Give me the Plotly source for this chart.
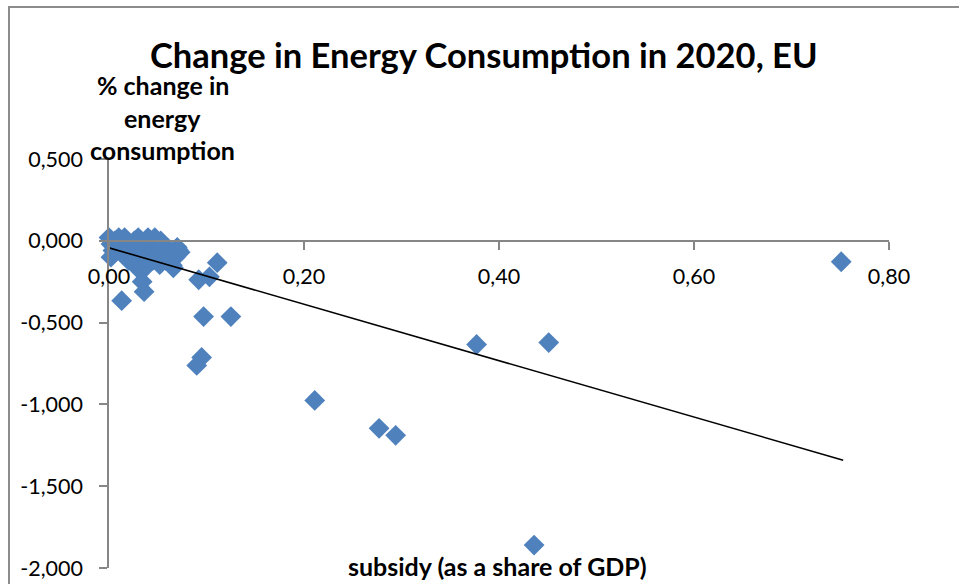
import plotly.graph_objects as go

# Subsidy (share of GDP) vs. % change in energy consumption, EU 2020
subsidy = [
    0.000, 0.002, 0.004, 0.002, 0.006, 0.010, 0.012, 0.018, 0.022, 0.025,
    0.028, 0.030, 0.035, 0.040, 0.045, 0.048, 0.050, 0.055, 0.058, 0.062,
    0.065, 0.070, 0.068, 0.032, 0.029, 0.052, 0.066, 0.037,
    0.008, 0.015, 0.020, 0.040, 0.045, 0.060, 0.073, 0.016, 0.026, 0.047,
    0.053,
    0.013, 0.036, 0.034, 0.071,
    0.111, 0.103, 0.092, 0.125, 0.097, 0.095, 0.090,
    0.211, 0.277, 0.294, 0.377, 0.451, 0.436, 0.751,
]
energy_change = [
    0.020, -0.020, -0.060, -0.100, 0.000, 0.020, -0.030, -0.010, -0.060, -0.100,
    -0.020, 0.020, -0.050, 0.020, -0.030, -0.080, -0.010, -0.050, -0.120, -0.060,
    -0.150, -0.040, -0.100, -0.140, -0.165, -0.146, -0.165, -0.165,
    -0.060, -0.080, -0.120, -0.100, -0.120, -0.090, -0.070, 0.020, 0.000, 0.020,
    0.000,
    -0.366, -0.311, -0.250, -0.055,
    -0.134, -0.220, -0.238, -0.463, -0.463, -0.713, -0.762,
    -0.976, -1.146, -1.189, -0.634, -0.622, -1.860, -0.128,
]

# Linear trend line end points
trend_x = [0.0, 0.753]
trend_y = [-0.043, -1.341]

# Axis ticks and their labels (comma decimals, plain hyphen for negatives)
x_ticks = [0.0, 0.2, 0.4, 0.6, 0.8]
x_tick_labels = ["0,00", "0,20", "0,40", "0,60", "0,80"]
y_ticks = [0.5, 0.0, -0.5, -1.0, -1.5, -2.0]
y_tick_labels = ["0,500", "0,000", "-0,500", "-1,000", "-1,500", "-2,000"]

title_text = "Change in Energy Consumption in 2020, EU"
y_title_lines = ["% change in", "energy", "consumption"]
x_title_text = "subsidy (as a share of GDP)"

FONT = "Lato, Calibri, Carlito, sans-serif"
AXIS_GREY = "#868686"

fig = go.Figure()

fig.add_trace(go.Scatter(
    x=subsidy, y=energy_change, mode="markers",
    marker=dict(symbol="diamond", size=16, color="#4F81BD",
                line=dict(width=0)),
    showlegend=False, cliponaxis=False,
))

fig.add_trace(go.Scatter(
    x=trend_x, y=trend_y, mode="lines",
    line=dict(color="black", width=1.6),
    showlegend=False,
))

y_min, y_max = -2.0, 0.5
x_zero_pos = (0 - y_min) / (y_max - y_min)

fig.update_layout(
    width=959, height=584,
    margin=dict(l=109, r=70, t=159, b=16, autoexpand=False),
    paper_bgcolor="white", plot_bgcolor="white",
    font=dict(family=FONT, color="black"),
    xaxis=dict(
        range=[0, 0.8], tickmode="array",
        tickvals=x_ticks, ticktext=x_tick_labels,
        showgrid=False, zeroline=False, automargin=False,
        showline=True, linecolor=AXIS_GREY, linewidth=1.5,
        ticks="outside", ticklen=8, tickcolor=AXIS_GREY, tickwidth=1.5,
        ticklabelstandoff=9,
        tickfont=dict(size=21.5, family=FONT, color="black"),
        anchor="free", position=x_zero_pos,
    ),
    yaxis=dict(
        range=[y_min, y_max], tickmode="array",
        tickvals=y_ticks, ticktext=y_tick_labels,
        showgrid=False, zeroline=False, automargin=False,
        showline=True, linecolor=AXIS_GREY, linewidth=1.5,
        ticks="outside", ticklen=8, tickcolor=AXIS_GREY, tickwidth=1.5,
        ticklabelstandoff=12,
        tickfont=dict(size=21.5, family=FONT, color="black"),
    ),
)

# Chart border
fig.add_shape(type="rect", xref="paper", yref="paper",
              x0=-0.1282, x1=1.2, y0=-0.2, y1=1.3716,
              line=dict(color="#8c8c8c", width=2), layer="below")

ann = []
ann.append(dict(text="<b>%s</b>" % title_text, x=0.4814, y=1.2543,
                font=dict(size=34.5, family=FONT, color="black")))
for txt, yy in zip(y_title_lines, [1.1809, 1.1002, 1.0220]):
    ann.append(dict(text="<b>%s</b>" % txt, x=0.0692, y=yy,
                    font=dict(size=25, family=FONT, color="black")))
ann.append(dict(text="<b>%s</b>" % x_title_text, x=0.4987, y=0.0049,
                font=dict(size=25, family=FONT, color="black")))
for a in ann:
    a.update(xref="paper", yref="paper", showarrow=False,
             xanchor="center", yanchor="middle")
    fig.add_annotation(**a)

fig.write_html("out.html")
